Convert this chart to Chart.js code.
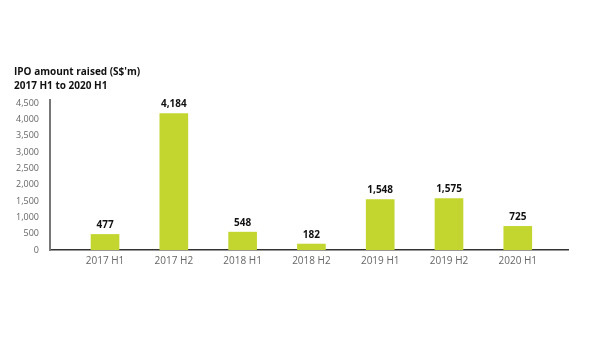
<!DOCTYPE html>
<html><head><meta charset="utf-8">
<script src="https://cdn.jsdelivr.net/npm/chart.js@4"></script>
<style>html,body{margin:0;padding:0;background:#fff}#wrap{width:600px;height:361px}</style>
</head><body><div id="wrap"><canvas id="c" width="600" height="361"></canvas></div>
<script>
const categories = ["2017 H1","2017 H2","2018 H1","2018 H2","2019 H1","2019 H2","2020 H1"];
const values = [477, 4184, 548, 182, 1548, 1575, 725];
const yTicks = [0,500,1000,1500,2000,2500,3000,3500,4000,4500];
const titleLines = ["IPO amount raised (S$'m)", "2017 H1 to 2020 H1"];

const points = values.map((v,i)=>({x:i, y:v}));

const labelPlugin = {
  id:'vlabels',
  afterDatasetsDraw(chart){
    const ctx = chart.ctx;
    const meta = chart.getDatasetMeta(0);
    ctx.save();
    ctx.font = 'bold 10px "Open Sans", sans-serif';
    ctx.fillStyle = '#111';
    ctx.textAlign = 'center';
    ctx.textBaseline = 'bottom';
    meta.data.forEach((bar,i)=>{
      ctx.fillText(values[i].toLocaleString('en-US'), bar.x, bar.y - 4);
    });
    ctx.restore();
  }
};

new Chart(document.getElementById('c'), {
  type:'bar',
  data:{datasets:[{data:points, backgroundColor:'#c3d62f', barThickness:28, borderWidth:0}]},
  options:{
    responsive:false, animation:false,
    layout:{padding:{left:14, right:32, top:65, bottom:89}},
    plugins:{
      legend:{display:false}, tooltip:{enabled:false},
      title:{display:true, text:titleLines, align:'start',
        font:{family:'"Open Sans", sans-serif', size:10, weight:'bold', lineHeight:1.4},
        color:'#111', padding:{top:0,bottom:7}}
    },
    scales:{
      x:{type:'linear', min:-0.8, max:6.73, offset:false,
        afterBuildTicks(s){ s.ticks = categories.map((c,i)=>({value:i})); },
        grid:{display:false, drawTicks:false},
        border:{display:true, color:'#333', width:1.5},
        ticks:{callback:(v)=>categories[v], color:'#666', padding:5,
          font:{family:'"Open Sans", sans-serif', size:10}, maxRotation:0, autoSkip:false}
      },
      y:{min:0, max:4600,
        afterBuildTicks(s){ s.ticks = yTicks.map(v=>({value:v})); },
        afterFit(s){ s.width = 36; },
        grid:{display:false, drawTicks:false},
        border:{display:true, color:'#777', width:2},
        ticks:{color:'#666', padding:11, callback:(v)=>v.toLocaleString('en-US'),
          font:{family:'"Open Sans", sans-serif', size:9}}
      }
    }
  },
  plugins:[labelPlugin]
});
</script></body></html>
